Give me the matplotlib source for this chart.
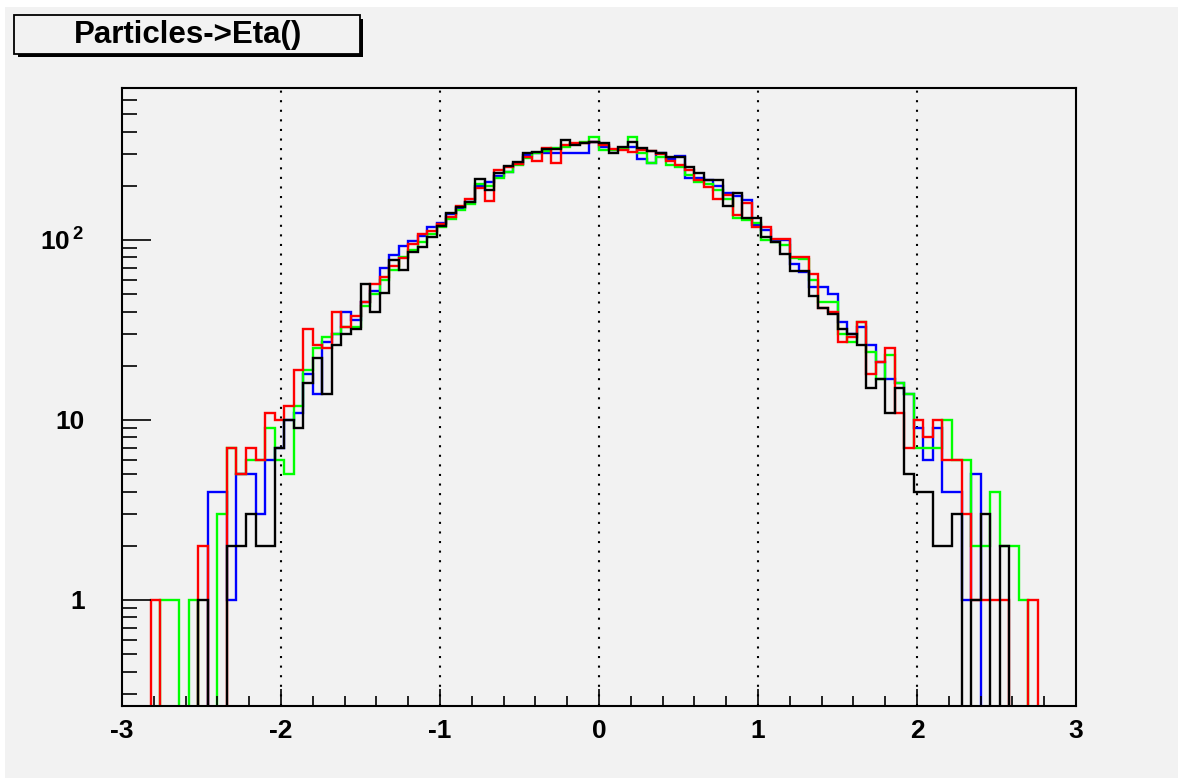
import numpy as np
import matplotlib
matplotlib.use("Agg")
import matplotlib.pyplot as plt
from matplotlib.patches import Rectangle
from matplotlib.ticker import FixedLocator, NullFormatter

# binning of the Particles->Eta() histogram
n_bins = 100
eta_min = -3.0
eta_max = 3.0

# entries per bin, four samples
blue_counts = [0, 0, 0, 0, 0, 0, 0, 0, 0, 4,
               4, 1, 5, 5, 3, 6, 7, 10, 11, 18,
               14, 27, 30, 40, 36, 45, 52, 70, 83, 93,
               99, 105, 118, 125, 140, 150, 162, 200, 210, 228,
               240, 265, 295, 303, 303, 303, 303, 303, 303, 352,
               330, 315, 320, 330, 281, 269, 303, 282, 292, 220,
               220, 215, 200, 182, 175, 167, 121, 114, 100, 100,
               74, 66, 55, 55, 50, 35, 30, 33, 26, 21,
               17, 16, 14, 9, 6, 9, 4, 4, 1, 5,
               0, 0, 0, 0, 0, 0, 0, 0, 0, 0]
green_counts = [0, 0, 0, 0, 1, 1, 0, 1, 0, 0,
                3, 7, 5, 6, 6, 9, 6, 5, 12, 19,
                25, 29, 30, 33, 33, 43, 50, 60, 68, 80,
                88, 98, 108, 118, 130, 146, 158, 205, 200, 222,
                240, 262, 285, 305, 312, 325, 330, 340, 352, 375,
                315, 318, 322, 375, 305, 269, 290, 262, 256, 230,
                211, 206, 190, 170, 132, 129, 125, 100, 97, 94,
                79, 78, 60, 45, 45, 30, 27, 35, 24, 17,
                23, 16, 14, 7, 7, 7, 10, 6, 6, 2,
                2, 4, 2, 2, 1, 0, 0, 0, 0, 0]
red_counts = [0, 0, 0, 1, 0, 0, 0, 0, 2, 0,
              0, 7, 5, 7, 6, 11, 10, 12, 19, 32,
              26, 25, 40, 33, 38, 45, 57, 62, 72, 79,
              95, 108, 112, 122, 135, 155, 170, 195, 165, 245,
              255, 265, 290, 275, 323, 269, 337, 347, 347, 352,
              335, 320, 315, 310, 317, 312, 300, 276, 261, 245,
              215, 198, 170, 178, 138, 160, 118, 118, 101, 101,
              80, 80, 65, 42, 40, 27, 29, 35, 18, 21,
              25, 11, 7, 10, 8, 10, 6, 6, 3, 1,
              1, 1, 1, 0, 0, 1, 0, 0, 0, 0]
black_counts = [0, 0, 0, 0, 0, 0, 0, 0, 1, 0,
                0, 2, 2, 3, 2, 2, 7, 10, 9, 16,
                22, 14, 26, 30, 32, 57, 40, 51, 77, 68,
                86, 92, 104, 120, 142, 153, 163, 217, 190, 235,
                258, 270, 303, 310, 319, 319, 359, 337, 347, 352,
                347, 303, 327, 352, 323, 314, 303, 288, 288, 255,
                237, 216, 216, 155, 182, 132, 132, 104, 97, 84,
                67, 67, 49, 42, 39, 32, 30, 26, 15, 17,
                11, 15, 5, 4, 4, 2, 2, 3, 0, 1,
                3, 0, 2, 0, 0, 0, 0, 0, 0, 0]

series_colors = ["#0000ff", "#00ff00", "#ff0000", "#000000"]

x_ticks = [-3, -2, -1, 0, 1, 2, 3]
x_labels = ["-3", "-2", "-1", "0", "1", "2", "3"]
y_ticks = [1, 10, 100]
y_labels = ["1", "10", r"$\mathbf{10^{\,2}}$"]
grid_eta = [-2, -1, 0, 1, 2]
title = "Particles->Eta()"

W, H = 1178, 778
bg = "#f2f2f2"


def px_rect(fig, x0, y0, x1, y1, **kw):
    # rectangle given in picture pixels (y down)
    r = Rectangle((x0 / W, 1 - y1 / H), (x1 - x0) / W, (y1 - y0) / H,
                  transform=fig.transFigure, **kw)
    fig.patches.append(r)


def main():
    plt.rcParams['font.family'] = ['Liberation Sans', 'DejaVu Sans']
    plt.rcParams['font.weight'] = 'bold'
    plt.rcParams['axes.unicode_minus'] = False
    plt.rcParams['mathtext.fontset'] = 'custom'
    plt.rcParams['mathtext.bf'] = 'Liberation Sans:bold'
    plt.rcParams['mathtext.rm'] = 'Liberation Sans:bold'

    fig = plt.figure(figsize=(W / 100, H / 100), dpi=100, facecolor=bg)
    ax = fig.add_axes([122 / W, 1 - 706 / H, (1076 - 122) / W, (706 - 88) / H])
    ax.set_facecolor(bg)

    edges = np.linspace(eta_min, eta_max, n_bins + 1)
    for counts, col in zip([blue_counts, green_counts, red_counts, black_counts],
                           series_colors):
        c = np.array(counts, dtype=float)
        c[c <= 0] = 1e-3  # empty bins drop to the frame like in ROOT
        ax.stairs(c, edges, baseline=None, color=col, lw=1.7)

    for g in grid_eta:
        ax.axvline(g, color="black", lw=1.5, ls=(0, (1, 3.6)), zorder=0.5)

    ax.set_yscale("log")
    ax.set_xlim(eta_min, eta_max)
    ax.set_ylim(0.2576, 699)

    ax.xaxis.set_major_locator(FixedLocator(x_ticks))
    ax.set_xticklabels(x_labels)
    ax.xaxis.set_minor_locator(FixedLocator(np.arange(-3, 3.01, 0.2)))
    minor_y = [m * 10.0 ** d for d in range(-1, 3) for m in range(2, 10)]
    ax.yaxis.set_major_locator(FixedLocator(y_ticks))
    ax.set_yticklabels(y_labels)
    ax.yaxis.set_minor_locator(FixedLocator(minor_y))
    ax.yaxis.set_minor_formatter(NullFormatter())

    ax.tick_params(axis="x", which="both", direction="in", top=False,
                   width=1.2, labelsize=19, pad=9)
    ax.tick_params(axis="x", which="major", length=12)
    ax.tick_params(axis="x", which="minor", length=7)
    ax.tick_params(axis="y", which="both", direction="in", right=False,
                   width=1.2, labelsize=19, pad=27)
    ax.tick_params(axis="y", which="major", length=21)
    ax.tick_params(axis="y", which="minor", length=11)
    for s in ax.spines.values():
        s.set_linewidth(1.5)

    # window edges
    px_rect(fig, 0, 0, W, 7, facecolor="white", edgecolor="none")
    px_rect(fig, 0, 0, 5, H, facecolor="white", edgecolor="none")

    # title box with a drop shadow
    px_rect(fig, 18, 19, 363, 57, facecolor="black", edgecolor="none")
    px_rect(fig, 14, 15, 360, 54, facecolor=bg, edgecolor="black", lw=1.3)
    fig.text(188 / W, 1 - 35 / H, title, ha="center", va="center",
             fontsize=22.5, fontweight="bold")

    fig.savefig("out.png", dpi=100, facecolor=bg)


if __name__ == "__main__":
    main()
